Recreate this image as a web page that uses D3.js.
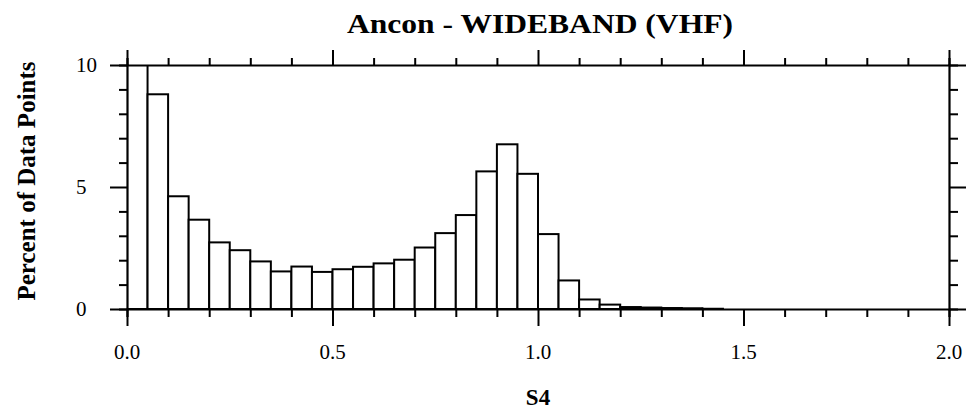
<!DOCTYPE html>
<html>
<head>
<meta charset="utf-8">
<script src="https://cdn.jsdelivr.net/npm/d3@7"></script>
<style>
  html, body { margin: 0; padding: 0; background: #fff; }
  svg { display: block; }
</style>
</head>
<body>
<svg id="chart" width="968" height="413"></svg>
<script>
// ---- Data ----
const title = "Ancon - WIDEBAND (VHF)";
const xLabel = "S4";
const yLabel = "Percent of Data Points";
const binStarts = [0.00,0.05,0.10,0.15,0.20,0.25,0.30,0.35,0.40,0.45,
                   0.50,0.55,0.60,0.65,0.70,0.75,0.80,0.85,0.90,0.95,
                   1.00,1.05,1.10,1.15,1.20,1.25,1.30,1.35,1.40];
const binWidth = 0.05;
const percents = [10.6,8.8,4.62,3.66,2.73,2.41,1.95,1.54,1.74,1.52,
                  1.63,1.73,1.87,2.02,2.52,3.11,3.85,5.64,6.75,5.54,
                  3.07,1.17,0.39,0.18,0.08,0.06,0.04,0.03,0.01];
const xTickLabels = [0.0, 0.5, 1.0, 1.5, 2.0];
const yTickLabels = [0, 5, 10];
const xDomain = [0, 2];
const yDomain = [0, 10];

// ---- Layout ----
const svg = d3.select("#chart");
const pLeft = 127, pRight = 949, pTop = 65, pBottom = 309;
const x = d3.scaleLinear().domain(xDomain).range([pLeft, pRight]);
const y = d3.scaleLinear().domain(yDomain).range([pBottom, pTop]);
const serif = "'Liberation Serif', 'Times New Roman', serif";

svg.append("defs").append("clipPath").attr("id", "plotClip")
  .append("rect").attr("x", pLeft).attr("y", pTop)
  .attr("width", pRight - pLeft).attr("height", pBottom - pTop);

// bars
svg.append("g").attr("clip-path", "url(#plotClip)")
  .selectAll("rect").data(binStarts.map((b, i) => ({b, v: percents[i]})))
  .join("rect")
  .attr("x", d => x(d.b))
  .attr("width", d => x(d.b + binWidth) - x(d.b))
  .attr("y", d => y(d.v))
  .attr("height", d => y(0) - y(d.v))
  .attr("fill", "#fff")
  .attr("stroke", "#000")
  .attr("stroke-width", 2);

// axes with minor/major ticks
const xMinor = d3.range(0, 21).map(i => i / 10);
const yMinor = d3.range(0, 11);
const isMajorX = v => Math.abs(v * 2 - Math.round(v * 2)) < 1e-6;
const isMajorY = v => v % 5 === 0;

function tickAxis(axisGen, transform, values, majorFn, majorLen, minorLen, vertical) {
  const g = svg.append("g").attr("transform", transform)
    .call(axisGen.tickValues(values).tickFormat("").tickSizeOuter(0).tickSize(minorLen));
  g.selectAll(".tick line")
    .attr("stroke", "#000").attr("stroke-width", 2);
  const attr = vertical ? "x2" : "y2";
  g.selectAll(".tick").each(function(d) {
    const line = d3.select(this).select("line");
    if (majorFn(d)) line.attr(attr, +line.attr(attr) / minorLen * majorLen);
  });
  g.select(".domain").attr("stroke", "#000").attr("stroke-width", 2.2);
  return g;
}

tickAxis(d3.axisBottom(x), `translate(0,${pBottom})`, xMinor, isMajorX, 17, 8, false);
tickAxis(d3.axisTop(x), `translate(0,${pTop})`, xMinor, isMajorX, 15, 7, false);
tickAxis(d3.axisLeft(y), `translate(${pLeft},0)`, yMinor, isMajorY, 17, 8, true);
tickAxis(d3.axisRight(y), `translate(${pRight},0)`, yMinor, isMajorY, 17, 9, true);

// tick labels
svg.append("g").selectAll("text").data(xTickLabels).join("text")
  .attr("x", d => x(d)).attr("y", 359)
  .attr("text-anchor", "middle")
  .attr("font-family", serif).attr("font-size", 21)
  .text(d => d3.format(".1f")(d));

svg.append("g").selectAll("text").data(yTickLabels).join("text")
  .attr("x", 76).attr("y", d => y(d))
  .attr("dy", "0.35em")
  .attr("text-anchor", "start")
  .attr("font-family", serif).attr("font-size", 21)
  .text(d => d);

// title
svg.append("text")
  .attr("x", 540).attr("y", 33)
  .attr("text-anchor", "middle")
  .attr("font-family", serif).attr("font-weight", "bold").attr("font-size", 28)
  .attr("textLength", 386).attr("lengthAdjust", "spacingAndGlyphs")
  .text(title);

// x label
svg.append("text")
  .attr("x", 538).attr("y", 405)
  .attr("text-anchor", "middle")
  .attr("font-family", serif).attr("font-weight", "bold").attr("font-size", 23)
  .text(xLabel);

// y label
svg.append("text")
  .attr("transform", `translate(35,181) rotate(-90)`)
  .attr("text-anchor", "middle")
  .attr("font-family", serif).attr("font-weight", "bold").attr("font-size", 25)
  .text(yLabel);
</script>
</body>
</html>
